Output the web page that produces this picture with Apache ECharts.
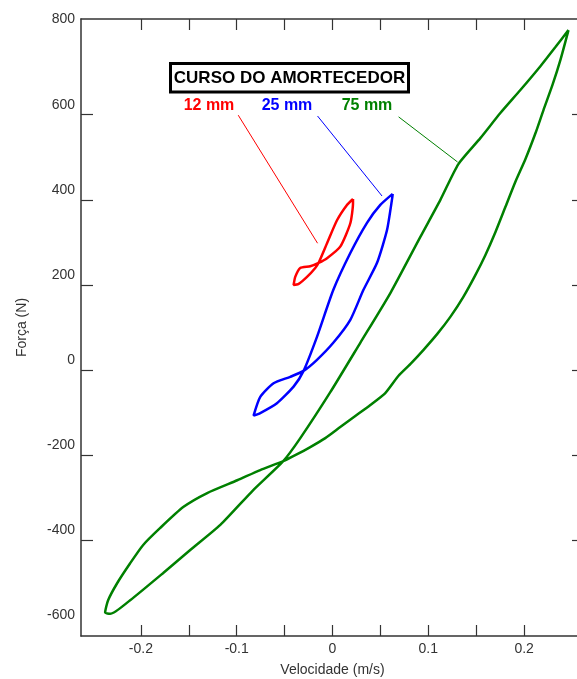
<!DOCTYPE html>
<html>
<head>
<meta charset="utf-8">
<script src="https://cdn.jsdelivr.net/npm/echarts@6/dist/echarts.min.js"></script>
<style>
  html, body { margin: 0; padding: 0; background: #ffffff; }
  #chart { width: 577px; height: 679px; }
</style>
</head>
<body>
<div id="chart"></div>
<script>
// Damper force vs. velocity loops for three strokes (12, 25 and 75 mm).
const velocity12 = [0.0214, 0.0214, 0.0186, 0.0081, -0.0057, -0.0145, -0.0232, -0.0337, -0.0389, -0.0406,
  -0.0357, -0.0266, -0.0180, -0.0145, -0.0057, 0.0047, 0.0151, 0.0214];
const force12 = [402, 392, 345, 290, 263, 252, 244, 240, 219, 200,
  202, 219, 240, 252, 298, 352, 388, 402];

const velocity25 = [0.0628, 0.0625, 0.0569, 0.0465, 0.0322, 0.0186, 0.0008, -0.0162, -0.0302,
  -0.0441, -0.0615, -0.0754, -0.0824, -0.0754, -0.0580, -0.0406, -0.0302,
  -0.0162, 0.0008, 0.0186, 0.0360, 0.0499, 0.0628];
const force25 = [414, 407, 329, 252, 188, 118, 64, 24, -2,
  -16, -31, -63, -107, -101, -78, -39, -2,
  78, 188, 275, 346, 388, 414];

const velocity75 = [0.2463, 0.2379, 0.2296, 0.2202, 0.2119, 0.2014, 0.1908, 0.1804, 0.1700, 0.1595,
  0.1491, 0.1366, 0.1230, 0.1094, 0.0948, 0.0812, 0.0687, 0.0551, 0.0395, 0.0238,
  0.0081, -0.0075, -0.0232, -0.0389, -0.0514,
  -0.0754, -0.0994, -0.1308, -0.1558, -0.1798, -0.1976, -0.2112, -0.2248, -0.2342, -0.2373,
  -0.2321, -0.2112, -0.1767, -0.1485, -0.1171, -0.0827, -0.0514,
  -0.0336, -0.0023, 0.0290, 0.0604, 0.0917, 0.1126, 0.1314, 0.1543, 0.1752, 0.1961, 0.2170, 0.2327, 0.2463];
const force75 = [799, 729, 670, 611, 557, 496, 442, 383, 324, 270,
  223, 172, 125, 85, 47, 14, -14, -54, -82, -108,
  -134, -160, -181, -200, -214,
  -235, -259, -289, -322, -371, -411, -454, -501, -541, -570,
  -573, -541, -477, -423, -364, -282, -214,
  -160, -52, 64, 181, 313, 400, 484, 545, 604, 658, 714, 759, 799];

// Leader lines from the stroke labels to each loop (data coordinates).
const leader12 = [[-0.0984, 599], [-0.0156, 298]];
const leader25 = [[-0.0156, 597], [0.0517, 409]];
const leader75 = [[0.0690, 595], [0.1305, 489]];

const strokeNames = ['12 mm', '25 mm', '75 mm'];
const strokeColors = ['#ff0000', '#0000ff', '#008000'];
const legendTitle = 'CURSO DO AMORTECEDOR';

const xTicks = [-0.2, -0.15, -0.1, -0.05, 0, 0.05, 0.1, 0.15, 0.2];
const xLabels = [-0.2, -0.1, 0, 0.1, 0.2];
const yTicks = [-400, -200, 0, 200, 400, 600];
const yLabels = [-600, -400, -200, 0, 200, 400, 600, 800];

const X_MIN = -0.2625, X_MAX = 0.2625, Y_MIN = -625, Y_MAX = 825;

const zip = (xs, ys) => xs.map((x, i) => [x, ys[i]]);

const axisColor = '#333333';
const labelFont = { fontFamily: 'Liberation Sans, Arial, sans-serif', fontSize: 14, color: '#333333' };

const chart = echarts.init(document.getElementById('chart'), null, { renderer: 'canvas' });

function xAxisDef(pos, withLabels) {
  return {
    type: 'value', position: pos, min: X_MIN, max: X_MAX,
    axisLine: { show: true, onZero: false, lineStyle: { color: axisColor, width: 1.5 } },
    axisTick: { show: true, inside: true, length: 11, customValues: xTicks, lineStyle: { color: axisColor, width: 1.2 } },
    axisLabel: withLabels ? Object.assign({ show: true, margin: 6, customValues: xLabels,
      formatter: v => String(v) }, labelFont) : { show: false },
    splitLine: { show: false },
    name: withLabels ? 'Velocidade (m/s)' : '',
    nameLocation: 'middle', nameGap: 27,
    nameTextStyle: labelFont
  };
}
function yAxisDef(pos, withLabels) {
  return {
    type: 'value', position: pos, min: Y_MIN, max: Y_MAX,
    axisLine: { show: true, onZero: false, lineStyle: { color: axisColor, width: 1.5 } },
    axisTick: { show: true, inside: true, length: 12, customValues: yTicks, lineStyle: { color: axisColor, width: 1.2 } },
    axisLabel: withLabels ? Object.assign({ show: true, margin: 6, customValues: yLabels,
      verticalAlign: 'bottom', lineHeight: 20 }, labelFont) : { show: false },
    splitLine: { show: false },
    name: withLabels ? 'Força (N)' : '',
    nameLocation: 'middle', nameGap: 52, nameRotate: 90,
    nameTextStyle: labelFont
  };
}

function loop(i, xs, ys) {
  return {
    type: 'line', name: strokeNames[i], data: zip(xs, ys),
    showSymbol: false, symbol: 'none', smooth: 0.2, silent: true, animation: false,
    lineStyle: { color: strokeColors[i], width: 2.5 }, clip: true, z: 3
  };
}
function leader(i, pts) {
  return {
    type: 'line', data: pts, showSymbol: false, symbol: 'none', silent: true, animation: false,
    lineStyle: { color: strokeColors[i], width: 1 }, z: 2
  };
}

const labelCenters = [209, 287, 367];

chart.setOption({
  animation: false,
  backgroundColor: '#ffffff',
  grid: { left: 81, top: 19, width: 503, height: 617, outerBoundsMode: 'none', containLabel: false },
  xAxis: [xAxisDef('bottom', true), xAxisDef('top', false)],
  yAxis: [yAxisDef('left', true), yAxisDef('right', false)],
  series: [
    leader(0, leader12), leader(1, leader25), leader(2, leader75),
    loop(0, velocity12, force12), loop(1, velocity25, force25), loop(2, velocity75, force75)
  ],
  graphic: [
    {
      type: 'rect', shape: { x: 170.5, y: 63.5, width: 238, height: 28.5 },
      style: { fill: '#ffffff', stroke: '#000000', lineWidth: 3 }, z: 10
    },
    {
      type: 'text', x: 289.5, y: 78, z: 11,
      style: { text: legendTitle, fill: '#000000', font: 'bold 17px Liberation Sans, Arial, sans-serif',
        align: 'center', verticalAlign: 'middle' }
    }
  ].concat(strokeNames.map((n, i) => ({
    type: 'text', x: labelCenters[i], y: 106, z: 11,
    style: { text: n, fill: strokeColors[i], font: 'bold 16px Liberation Sans, Arial, sans-serif',
      align: 'center', verticalAlign: 'middle' }
  })))
});
</script>
</body>
</html>
